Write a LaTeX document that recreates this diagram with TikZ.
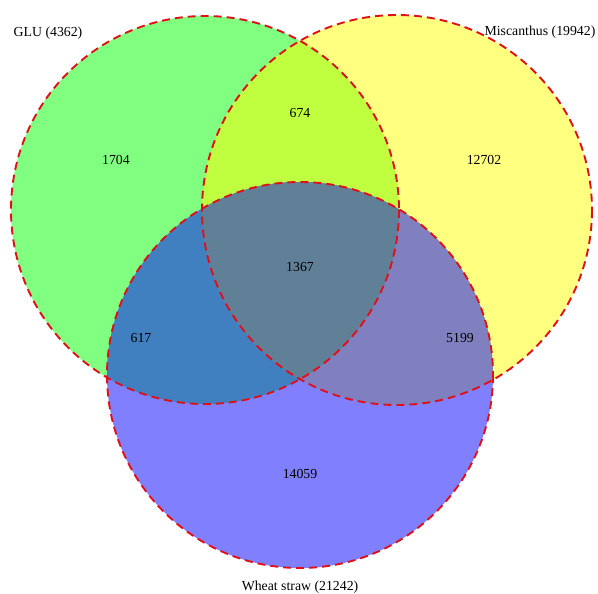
\documentclass[tikz,border=0pt]{standalone}
\usepackage{fontspec}
\setmainfont{Liberation Serif}
\definecolor{cg}{HTML}{80FF80}
\definecolor{cy}{HTML}{FFFF80}
\definecolor{cb}{HTML}{8080FF}
\definecolor{cgy}{HTML}{BFFF40}
\definecolor{cgb}{HTML}{4080C0}
\definecolor{cyb}{HTML}{8080C0}
\definecolor{cgyb}{HTML}{608098}
\definecolor{edge}{HTML}{E0101A}
\begin{document}
\begin{tikzpicture}[x=1pt,y=-1pt,
  outline/.style={draw=edge,line width=1.9pt,dash pattern=on 8pt off 5pt},
  lbl/.style={font=\fontsize{13.8}{16}\selectfont,inner sep=0pt}]
\useasboundingbox (0,0) rectangle (598,594);
\coordinate (G) at (205,210);
\coordinate (Y) at (397,210);
\coordinate (B) at (300,375);
\def\rg{194}\def\ry{195}\def\rb{193}
\fill[cg] (G) circle (\rg);
\fill[cy] (Y) circle (\ry);
\fill[cb] (B) circle (\rb);
\begin{scope}\clip (G) circle (\rg); \fill[cgy] (Y) circle (\ry);\end{scope}
\begin{scope}\clip (G) circle (\rg); \fill[cgb] (B) circle (\rb);\end{scope}
\begin{scope}\clip (Y) circle (\ry); \fill[cyb] (B) circle (\rb);\end{scope}
\begin{scope}\clip (G) circle (\rg); \clip (Y) circle (\ry); \fill[cgyb] (B) circle (\rb);\end{scope}
\draw[outline] (G) circle (\rg);
\draw[outline] (Y) circle (\ry);
\draw[outline] (B) circle (\rb);
\node[lbl] (tg) at (48,33) {GLU (4362)};
\node[lbl] (ty) at (540,32) {Miscanthus (19942)};
\node[lbl] (tb) at (300,587) {Wheat straw (21242)};
\node[lbl] (n1) at (116,160) {1704};
\node[lbl] (n2) at (300,113) {674};
\node[lbl] (n3) at (484,160) {12702};
\node[lbl] (n4) at (300,267) {1367};
\node[lbl] (n5) at (141,338) {617};
\node[lbl] (n6) at (460,338) {5199};
\node[lbl] (n7) at (300,474) {14059};
\end{tikzpicture}
\end{document}
